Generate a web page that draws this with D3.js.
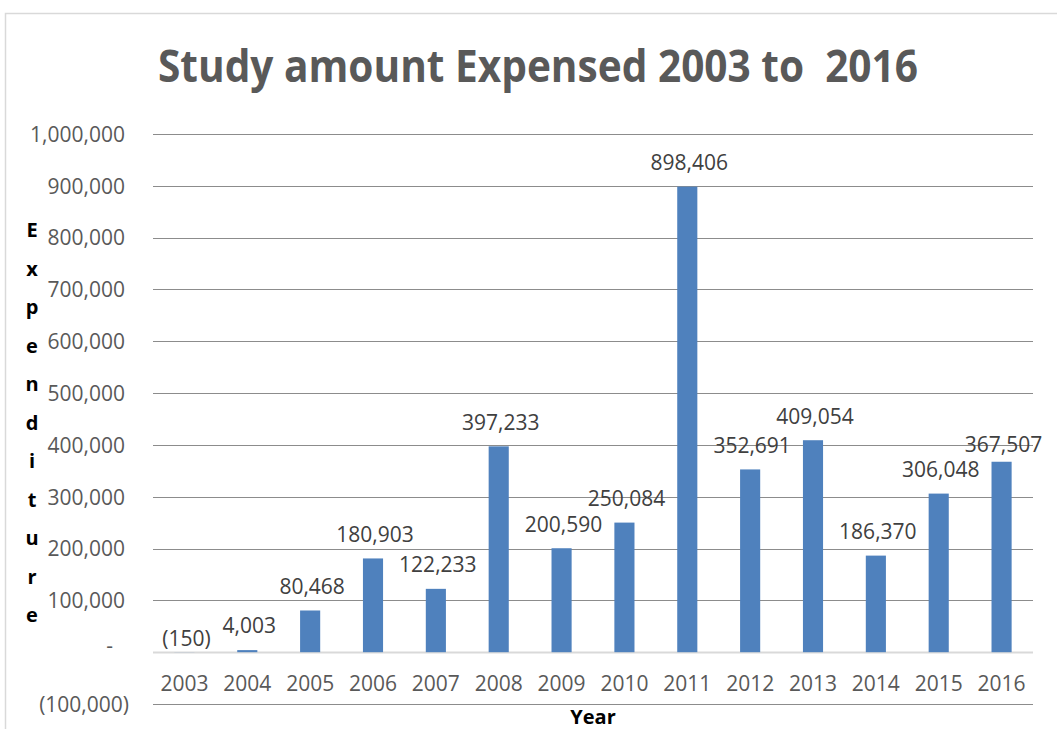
<!DOCTYPE html>
<html>
<head>
<meta charset="utf-8">
<script src="https://d3js.org/d3.v7.min.js"></script>
<style>
body {margin:0; background:#fff;}
svg {display:block;}
</style>
</head>
<body>
<div id="chart"></div>
<script>
// data
var years = ["2003","2004","2005","2006","2007","2008","2009","2010","2011","2012","2013","2014","2015","2016"];
var expenditure = [-150, 4003, 80468, 180903, 122233, 397233, 200590, 250084, 898406, 352691, 409054, 186370, 306048, 367507];
var yTicks = [-100000, 0, 100000, 200000, 300000, 400000, 500000, 600000, 700000, 800000, 900000, 1000000];
var axisLetters = "Expenditure".split("");

// a couple of labels sit a bit lower in the original
var labelNudge = [10, 0, 0, 0, 0, 0, 0, 0, 0, 0, 0, 0, 0, 7];

var width = 1057, height = 729;
var plotLeft = 153, plotRight = 1033, plotTop = 134, plotBottom = 704;

var svg = d3.select("#chart").append("svg")
  .attr("width", width)
  .attr("height", height)

// outer chart frame
svg.append("rect")
  .attr("x", 5.5).attr("y", 13.5)
  .attr("width", 1100).attr("height", 800)
  .style("fill", "none")
  .style("stroke", "#d9d9d9")
  .style("stroke-width", 1.5)

var x = d3.scaleBand()
  .domain(years)
  .range([plotLeft, plotRight])
  .paddingInner(0.68)
  .paddingOuter(0.34)

var y = d3.scaleLinear()
  .domain([-100000, 1000000])
  .range([plotBottom, plotTop])

function fmt(v) {
  if (v < 0) return "(" + d3.format(",")(-v) + ")";
  if (v == 0) return "-";
  return d3.format(",")(v);
}

// gridlines
svg.append("g")
  .selectAll("line")
  .data(yTicks)
  .enter()
  .append("line")
  .attr("x1", plotLeft)
  .attr("x2", plotRight)
  .attr("y1", d => Math.round(y(d)) + 0.5)
  .attr("y2", d => Math.round(y(d)) + 0.5)
  .style("stroke", d => d == 0 ? "#d9d9d9" : "#8c8c8c")
  .style("stroke-width", d => d == 0 ? 2 : 1)

// y axis labels
var yAxis = svg.append("g")
  .attr("transform", "translate(125,0)")
  .call(d3.axisLeft(y).tickValues(yTicks).tickFormat(fmt).tickSize(0).tickPadding(0))

yAxis.select(".domain").remove()
yAxis.selectAll("text")
  .style("font-family", "'Open Sans', sans-serif")
  .style("font-size", "21px")
  .style("fill", "#595959")
  .attr("x", d => d < 0 ? 4 : (d == 0 ? -12 : 0))
  .attr("dy", d => d == 0 ? "0" : "0.35em")

// bars
svg.append("g")
  .selectAll("rect")
  .data(expenditure)
  .enter()
  .append("rect")
  .attr("x", (d, i) => x(years[i]))
  .attr("width", x.bandwidth())
  .attr("y", d => y(Math.max(d, 0)))
  .attr("height", d => Math.abs(y(d) - y(0)))
  .style("fill", "#4f81bd")

// data labels
svg.append("g")
  .selectAll("text")
  .data(expenditure)
  .enter()
  .append("text")
  .attr("x", (d, i) => x(years[i]) + x.bandwidth() / 2 + 2)
  .attr("y", (d, i) => y(Math.max(d, 0)) - 24 + labelNudge[i])
  .attr("dy", "0.35em")
  .attr("text-anchor", "middle")
  .style("font-family", "'Open Sans', sans-serif")
  .style("font-size", "21px")
  .style("fill", "#404040")
  .text(fmt)

// x axis labels
svg.append("g")
  .selectAll("text")
  .data(years)
  .enter()
  .append("text")
  .attr("x", d => x(d) + x.bandwidth() / 2)
  .attr("y", 684)
  .attr("dy", "0.35em")
  .attr("text-anchor", "middle")
  .style("font-family", "'Open Sans', sans-serif")
  .style("font-size", "21px")
  .style("fill", "#595959")
  .text(d => d)

// title
svg.append("text")
  .attr("x", 538)
  .attr("y", 82)
  .attr("text-anchor", "middle")
  .attr("textLength", 760)
  .attr("lengthAdjust", "spacingAndGlyphs")
  .style("font-family", "'Liberation Sans Narrow', 'Open Sans', sans-serif")
  .style("font-weight", "bold")
  .style("font-size", "45px")
  .style("fill", "#595959")
  .style("white-space", "pre")
  .text("Study amount Expensed 2003 to  2016")

// axis titles
svg.append("text")
  .attr("x", (plotLeft + plotRight) / 2)
  .attr("y", 724)
  .attr("text-anchor", "middle")
  .style("font-family", "'Open Sans', sans-serif")
  .style("font-weight", "bold")
  .style("font-size", "20px")
  .style("fill", "#000")
  .text("Year")

svg.append("g")
  .selectAll("text")
  .data(axisLetters)
  .enter()
  .append("text")
  .attr("x", 32)
  .attr("y", (d, i) => 237 + i * 38.5)
  .attr("text-anchor", "middle")
  .style("font-family", "'Open Sans', sans-serif")
  .style("font-weight", "bold")
  .style("font-size", "20px")
  .style("fill", "#000")
  .text(d => d)
</script>
</body>
</html>
